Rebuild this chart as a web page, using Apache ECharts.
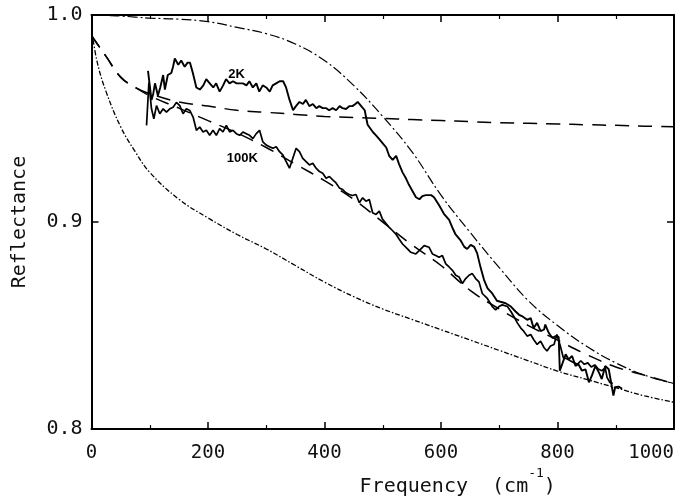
<!DOCTYPE html>
<html>
<head>
<meta charset="utf-8">
<script src="https://cdn.jsdelivr.net/npm/echarts@6/dist/echarts.min.js"></script>
<style>
html,body{margin:0;padding:0;background:#fff;}
#main{width:689px;height:502px;}
</style>
</head>
<body>
<div id="main"></div>
<script>
// ---- data ----
var xTicks = [0, 200, 400, 600, 800, 1000];
var yTicks = [0.8, 0.9, 1.0];

// model curves sampled on a common frequency grid
var modelFreq = [0, 10, 25, 50, 75, 100, 150, 200, 250, 300, 350, 400, 450, 500, 550, 600, 650, 700, 750, 800, 850, 900, 950, 1000];
var upperDashDot = [1.000, 1.000, 0.9998, 0.9995, 0.999, 0.9985, 0.998, 0.9968, 0.994, 0.991, 0.986, 0.978, 0.966, 0.951, 0.934, 0.913, 0.895, 0.878, 0.862, 0.850, 0.840, 0.832, 0.826, 0.822];
var lowerDashDot = [0.993, 0.977, 0.963, 0.946, 0.934, 0.924, 0.911, 0.902, 0.894, 0.887, 0.879, 0.871, 0.864, 0.858, 0.853, 0.848, 0.843, 0.838, 0.833, 0.828, 0.824, 0.820, 0.816, 0.813];
var flatDashed = [0.990, 0.986, 0.980, 0.970, 0.965, 0.962, 0.958, 0.956, 0.954, 0.953, 0.952, 0.951, 0.9505, 0.950, 0.9495, 0.949, 0.9485, 0.948, 0.9477, 0.9474, 0.947, 0.9467, 0.9463, 0.946];
var fallDashed = [0.990, 0.986, 0.980, 0.970, 0.965, 0.961, 0.955, 0.949, 0.943, 0.936, 0.928, 0.920, 0.911, 0.900, 0.889, 0.879, 0.867, 0.858, 0.850, 0.843, 0.836, 0.830, 0.826, 0.822];

// measured spectra [frequency, reflectance]
var data2K = [
[97,0.973],[100,0.966],[103,0.959],[106,0.962],[109,0.967],[114,0.961],[118,0.965],[123,0.971],[126,0.964],[131,0.971],[137,0.972],[140,0.975],[143,0.979],[149,0.976],[154,0.978],[160,0.975],[165,0.977],[169,0.977],[174,0.972],[180,0.965],[186,0.964],[192,0.966],[197,0.969],[203,0.967],[209,0.965],[214,0.967],[220,0.963],[226,0.966],[231,0.969],[237,0.967],[243,0.968],[249,0.967],[254,0.967],[260,0.967],[266,0.966],[271,0.968],[277,0.965],[283,0.967],[288,0.963],[294,0.966],[300,0.965],[306,0.963],[311,0.966],[317,0.967],[323,0.968],[329,0.968],[334,0.965],[340,0.959],[346,0.954],[351,0.956],[357,0.958],[363,0.957],[368,0.959],[374,0.956],[380,0.957],[386,0.955],[391,0.956],[397,0.955],[403,0.955],[408,0.954],[414,0.955],[420,0.954],[426,0.956],[431,0.955],[437,0.9546],[443,0.956],[448,0.956],[453,0.957],[457,0.958],[463,0.956],[469,0.954],[474,0.947],[483,0.9435],[488,0.942],[494,0.940],[500,0.938],[506,0.936],[511,0.932],[517,0.930],[523,0.932],[528,0.928],[534,0.924],[540,0.921],[545,0.918],[551,0.915],[557,0.912],[563,0.911],[568,0.9125],[574,0.913],[583,0.913],[588,0.912],[597,0.908],[605,0.904],[614,0.901],[620,0.897],[625,0.894],[634,0.891],[640,0.888],[645,0.887],[651,0.889],[657,0.888],[662,0.885],[668,0.878],[674,0.872],[680,0.868],[688,0.8655],[696,0.862],[702,0.8615],[711,0.8608],[720,0.8592],[728,0.8568],[734,0.8552],[740,0.8544],[748,0.8528],[754,0.8536],[759,0.8488],[765,0.8513],[771,0.8473],[777,0.8481],[779,0.8505],[785,0.8465],[791,0.8441],[797,0.8449],[802,0.8445],[804,0.8282],[814,0.8361],[819,0.8337],[825,0.8353],[831,0.8305],[836,0.8313],[842,0.8282],[848,0.8289],[854,0.8226],[859,0.8258],[865,0.8305],[871,0.8274],[876,0.8242],[882,0.8305],[888,0.8289],[893,0.8210],[896,0.8162],[899,0.8202],[905,0.8205],[911,0.8195]
];
var data100K = [
[94.5,0.9467],[98.5,0.9674],[103,0.9547],[107,0.9499],[111.6,0.9562],[117.3,0.9523],[123,0.9547],[128.7,0.9531],[134.4,0.9547],[140.1,0.9554],[145.8,0.9578],[151.5,0.9562],[157.2,0.9523],[162.9,0.9547],[168.7,0.9539],[174.4,0.9507],[180.1,0.9443],[185.8,0.9459],[191.5,0.9435],[197.2,0.9443],[202.9,0.9419],[208.6,0.9443],[214.3,0.9419],[220,0.9451],[225.7,0.9435],[231.5,0.9467],[237.2,0.9435],[242.9,0.9443],[248.6,0.9427],[254.3,0.9419],[260,0.9435],[265.7,0.9427],[271.4,0.9419],[277.1,0.9403],[282.8,0.9427],[288.5,0.9443],[294.2,0.9387],[300,0.9372],[305.7,0.9364],[311.4,0.9356],[317.1,0.9364],[322.8,0.9340],[328.5,0.9324],[334.2,0.9292],[339.9,0.9260],[345.6,0.9308],[351.3,0.9356],[357,0.9340],[362.7,0.9308],[368.4,0.9292],[374.1,0.9276],[379.9,0.9284],[385.6,0.9260],[391.3,0.9244],[397,0.9236],[402.7,0.9212],[408.4,0.9220],[414.1,0.9204],[419.8,0.9189],[425.5,0.9165],[431.2,0.9157],[436.9,0.9141],[442.6,0.9133],[448,0.9128],[454.1,0.9133],[459.8,0.9093],[465.5,0.9117],[471.2,0.9101],[476.9,0.9109],[482.6,0.9045],[488.4,0.9037],[494.1,0.9053],[499.7,0.9013],[505,0.8995],[511.1,0.8974],[517,0.8958],[522.5,0.8942],[528,0.8918],[534,0.8894],[542.5,0.8870],[548.2,0.8854],[556.8,0.8846],[562.5,0.8862],[571.1,0.8886],[579.6,0.8878],[585.3,0.8846],[591,0.8838],[596.7,0.8830],[602.4,0.8838],[608.2,0.8798],[613.9,0.8783],[619.6,0.8767],[625.3,0.8743],[631,0.8735],[636.7,0.8703],[642.4,0.8727],[648.1,0.8743],[653.8,0.8751],[659.5,0.8727],[665.2,0.8711],[670.9,0.8655],[679.5,0.8631],[688.1,0.8592],[693.8,0.8576],[699.5,0.8592],[705.2,0.8600],[714,0.8592],[720,0.8568],[725,0.8544],[731,0.8513],[737,0.8488],[742,0.8473],[748,0.8449],[754,0.8457],[759,0.8433],[765,0.8409],[771,0.8425],[777,0.8393],[782,0.8377],[788,0.8401],[794,0.8409],[799,0.8457],[805,0.8400],[810,0.8345],[816,0.8340],[822,0.8330],[828,0.8321],[834,0.8313],[840,0.8330],[846,0.8313],[852,0.8320],[858,0.8300],[864,0.8310],[870,0.8290],[876,0.8282],[882,0.8295],[885,0.8250],[890,0.8225],[895,0.8220]
];

var curveLabels = ['2K', '100K'];
var curveLabelPos = [[249, 0.9712], [259, 0.9307]];

// ---- build chart ----
function zip(xs, ys) { return xs.map(function (x, i) { return [x, ys[i]]; }); }

var MONO = 'DejaVu Sans Mono';
var black = '#000';

var chart = echarts.init(document.getElementById('main'), null, { renderer: 'canvas' });

function baseX(pos, showLabel) {
  return {
    type: 'value', min: 0, max: 1000, interval: 200, position: pos,
    axisLine: { show: true, onZero: false, lineStyle: { color: black, width: 2 } },
    axisTick: { show: true, inside: true, length: 7, lineStyle: { color: black, width: 1.5 } },
    minorTick: { show: true, splitNumber: 2, length: 4, lineStyle: { color: black, width: 1.2 } },
    splitLine: { show: false },
    axisLabel: {
      show: showLabel, fontFamily: MONO, fontSize: 19, color: '#111', margin: 14,
      alignMaxLabel: 'right',
      formatter: function (v) { return xTicks.indexOf(v) >= 0 ? String(v) : ''; }
    }
  };
}
function baseY(pos, showLabel) {
  return {
    type: 'value', min: 0.8, max: 1.0, interval: 0.1, position: pos,
    axisLine: { show: true, onZero: false, lineStyle: { color: black, width: 2 } },
    axisTick: { show: true, inside: true, length: 7, lineStyle: { color: black, width: 1.5 } },
    splitLine: { show: false },
    axisLabel: {
      show: showLabel, fontFamily: MONO, fontSize: 20, color: '#111', margin: 9,
      formatter: function (v) { return v.toFixed(1); }
    }
  };
}

var xBottom = baseX('bottom', true);
xBottom.name = 'Frequency  (cm{sup|-1})';
xBottom.nameLocation = 'middle';
xBottom.nameGap = 28;
xBottom.nameTextStyle = {
  fontFamily: MONO, fontSize: 20, color: '#111', padding: [0, 0, 0, 150],
  rich: {
    sup: { fontFamily: MONO, fontSize: 13, color: '#111', verticalAlign: 'bottom', lineHeight: 14, padding: [0, 0, 17, 0] }
  }
};
var xTop = baseX('top', false);

var yLeft = baseY('left', true);
yLeft.name = 'Reflectance';
yLeft.nameLocation = 'middle';
yLeft.nameGap = 62;
yLeft.nameTextStyle = { fontFamily: MONO, fontSize: 20, color: '#111' };
var yRight = baseY('right', false);

var option = {
  animation: false,
  backgroundColor: '#fff',
  grid: { left: 91.5, right: 15, top: 15, bottom: 68, containLabel: false },
  xAxis: [xBottom, xTop],
  yAxis: [yLeft, yRight],
  series: [
    { name: 'model upper', type: 'line', smooth: 0.4, showSymbol: false, symbol: 'none',
      data: zip(modelFreq, upperDashDot),
      lineStyle: { color: black, width: 1.2, type: [10, 3, 2, 3] } },
    { name: 'model lower', type: 'line', smooth: 0.4, showSymbol: false, symbol: 'none',
      data: zip(modelFreq, lowerDashDot),
      lineStyle: { color: black, width: 1.3, type: [5, 2, 1.5, 2] } },
    { name: 'fit flat', type: 'line', smooth: 0.4, showSymbol: false, symbol: 'none',
      data: zip(modelFreq, flatDashed),
      lineStyle: { color: black, width: 1.5, type: [14, 9] } },
    { name: 'fit falling', type: 'line', smooth: 0.4, showSymbol: false, symbol: 'none',
      data: zip(modelFreq, fallDashed),
      lineStyle: { color: black, width: 1.5, type: [14, 9] } },
    { name: '2K', type: 'line', showSymbol: false, symbol: 'none', data: data2K,
      lineStyle: { color: black, width: 1.9 } },
    { name: '100K', type: 'line', showSymbol: false, symbol: 'none', data: data100K,
      lineStyle: { color: black, width: 1.7 } },
    { name: 'labels', type: 'scatter', symbolSize: 1, itemStyle: { color: 'rgba(0,0,0,0)' },
      data: curveLabels.map(function (t, i) { return { name: t, value: curveLabelPos[i] }; }),
      label: { show: true, position: 'inside', formatter: '{b}', fontFamily: 'Liberation Sans', fontSize: 13, fontWeight: 'bold', color: '#000', textBorderWidth: 0, opacity: 1 } }
  ]
};
chart.setOption(option);
</script>
</body>
</html>
